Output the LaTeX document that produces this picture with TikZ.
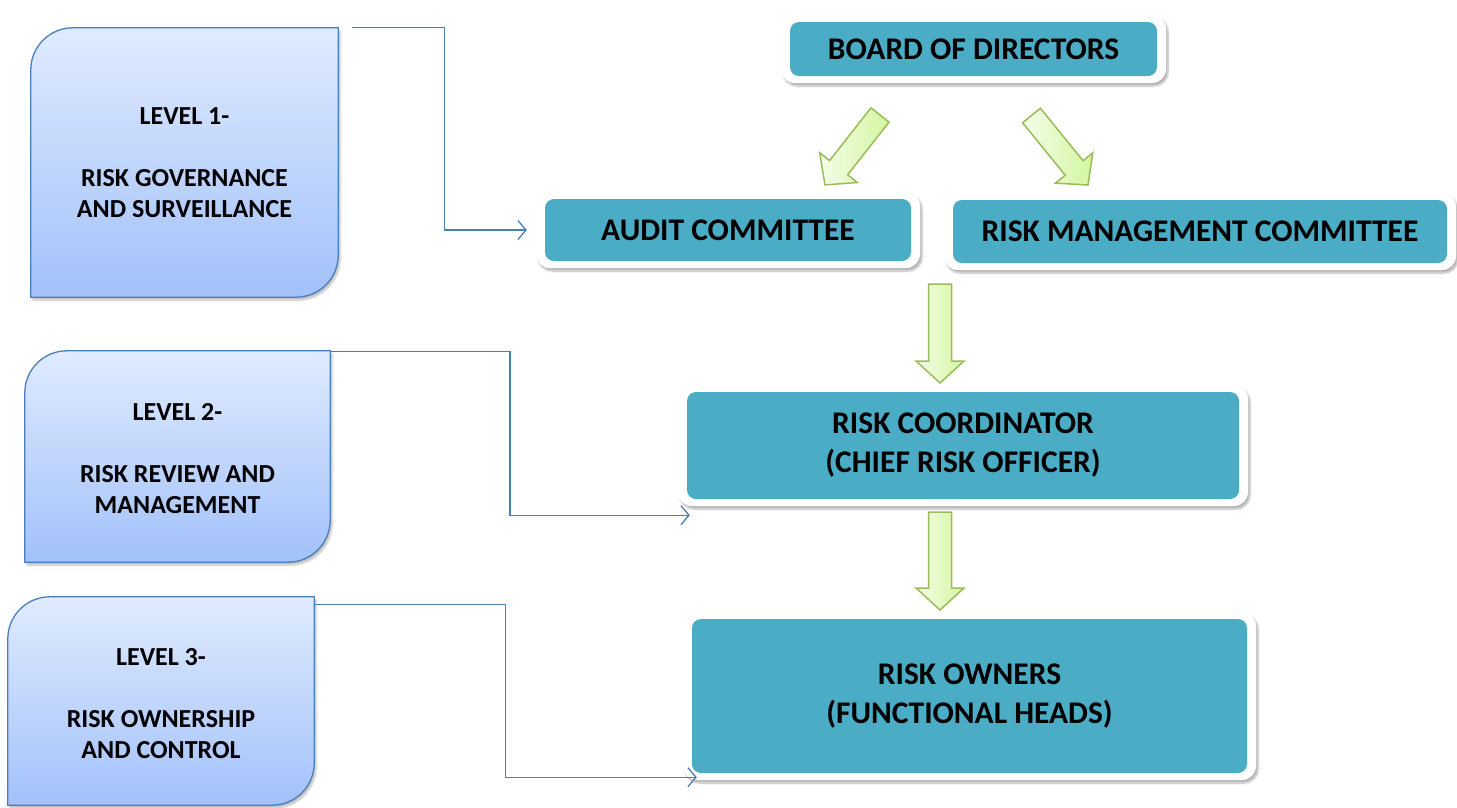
\documentclass[tikz,border=0pt]{standalone}
\usepackage{fontspec}
\setmainfont{Carlito}
\usetikzlibrary{calc,arrows.meta,shadows.blur}

\definecolor{boxteal}{HTML}{4BACC6}
\definecolor{levtop}{HTML}{E0EBFE}
\definecolor{levbot}{HTML}{A2C1FA}
\definecolor{levline}{HTML}{4A7EBB}
\definecolor{arrline}{HTML}{9BBB59}
\definecolor{arrtail}{HTML}{F4FDEA}
\definecolor{arrhead}{HTML}{D3F6A0}

\tikzset{
  mainbox/.style={rectangle, rounded corners=14pt, fill=white, align=center, inner sep=0pt,
    font=\fontsize{31.5}{39}\selectfont\bfseries,
    blur shadow={shadow xshift=2pt, shadow yshift=-3pt, shadow blur steps=8, shadow opacity=30},
    path picture={\fill[boxteal, rounded corners=9pt]
      ([shift={(9pt,7pt)}]path picture bounding box.south west) rectangle
      ([shift={(-9pt,-7pt)}]path picture bounding box.north east);}},
  levelbox/.style={rectangle, align=center, inner sep=0pt,
    font=\fontsize{26}{31}\selectfont\bfseries},
  levelframe/.style={draw=levline, line width=1.3pt, top color=levtop, bottom color=levbot,
    blur shadow={shadow xshift=2pt, shadow yshift=-3pt, shadow blur steps=6, shadow opacity=25}},
  link/.style={draw=levline, line width=1.3pt, -{Straight Barb[length=8pt,width=19pt]}},
  fatarrow/.style={draw=arrline, line width=1.5pt, left color=arrtail, right color=arrhead}
}

% block arrow: tail point, angle, length
\newcommand{\greenarrow}[3]{%
  \begin{scope}[shift={(#1)},rotate=#2]
    \draw[fatarrow] (0,-11.5) -- (#3-22,-11.5) -- (#3-22,-24) -- (#3,0)
      -- (#3-22,24) -- (#3-22,11.5) -- (0,11.5) -- cycle;
  \end{scope}}

\begin{document}
\begin{tikzpicture}[x=1pt,y=-1pt]
  \useasboundingbox (0,0) rectangle (1457,807);

  % right hand chart
  \node[mainbox, minimum width=385pt, minimum height=68pt] (board) at (973.5,49) {BOARD OF DIRECTORS};
  \node[mainbox, minimum width=384pt, minimum height=76pt] (audit) at (728,230) {AUDIT COMMITTEE};
  \node[mainbox, minimum width=512pt, minimum height=77pt] (rmc) at (1200,231.5) {RISK MANAGEMENT COMMITTEE};
  \node[mainbox, minimum width=570pt, minimum height=121pt] (coord) at (963,445.5) {RISK COORDINATOR\\(CHIEF RISK OFFICER)};
  \node[mainbox, minimum width=573pt, minimum height=168pt] (owners) at (969.5,696) {RISK OWNERS\\(FUNCTIONAL HEADS)};

  % left hand levels
  \node[levelbox, minimum width=307pt, minimum height=269pt] (l1) at (184.5,162.5) {};
  \node[levelbox, minimum width=305pt, minimum height=211pt] (l2) at (177.5,456.5) {};
  \node[levelbox, minimum width=306pt, minimum height=208pt] (l3) at (161,701) {};

  \foreach \n in {l1,l2,l3}
    \path[levelframe] (\n.south west) -- ([yshift=-42pt]\n.north west)
      arc[start angle=180, end angle=90, radius=42pt] -- (\n.north east)
      -- ([yshift=42pt]\n.south east) arc[start angle=0, end angle=-90, radius=42pt] -- cycle;

  \node[levelbox] at (l1) {LEVEL 1-\\[31pt]RISK GOVERNANCE\\AND SURVEILLANCE};
  \node[levelbox] at ([yshift=-2pt]l2) {LEVEL 2-\\[31pt]RISK REVIEW AND\\MANAGEMENT};
  \node[levelbox] at ([yshift=-3pt]l3) {LEVEL 3-\\[31pt]RISK OWNERSHIP\\AND CONTROL};

  % level links
  \coordinate (s1) at ([xshift=14pt]l1.north east);
  \coordinate (e1) at ([xshift=-9pt]audit.west);
  \coordinate (s2) at ([yshift=-1pt]l2.north east);
  \coordinate (e2) at ([xshift=12pt,yshift=-9pt]coord.south west);
  \coordinate (s3) at ([yshift=-8pt]l3.north east);
  \coordinate (e3) at ([xshift=14pt,yshift=3pt]owners.south west);

  \draw[link] (s1) -| ($(s1)!.5!(e1)+(5,0)$) |- (e1);
  \draw[link] (s2) -| ($(s2)!.5!(e2)$) |- (e2);
  \draw[link] (s3) -| ($(s3)!.5!(e3)$) |- (e3);

  % green block arrows
  \greenarrow{880,115}{-128.2}{89}
  \greenarrow{1031.5,115.5}{-50.9}{89.6}
  \greenarrow{940,284}{-90}{99}
  \greenarrow{940,512}{-90}{98}
\end{tikzpicture}
\end{document}
